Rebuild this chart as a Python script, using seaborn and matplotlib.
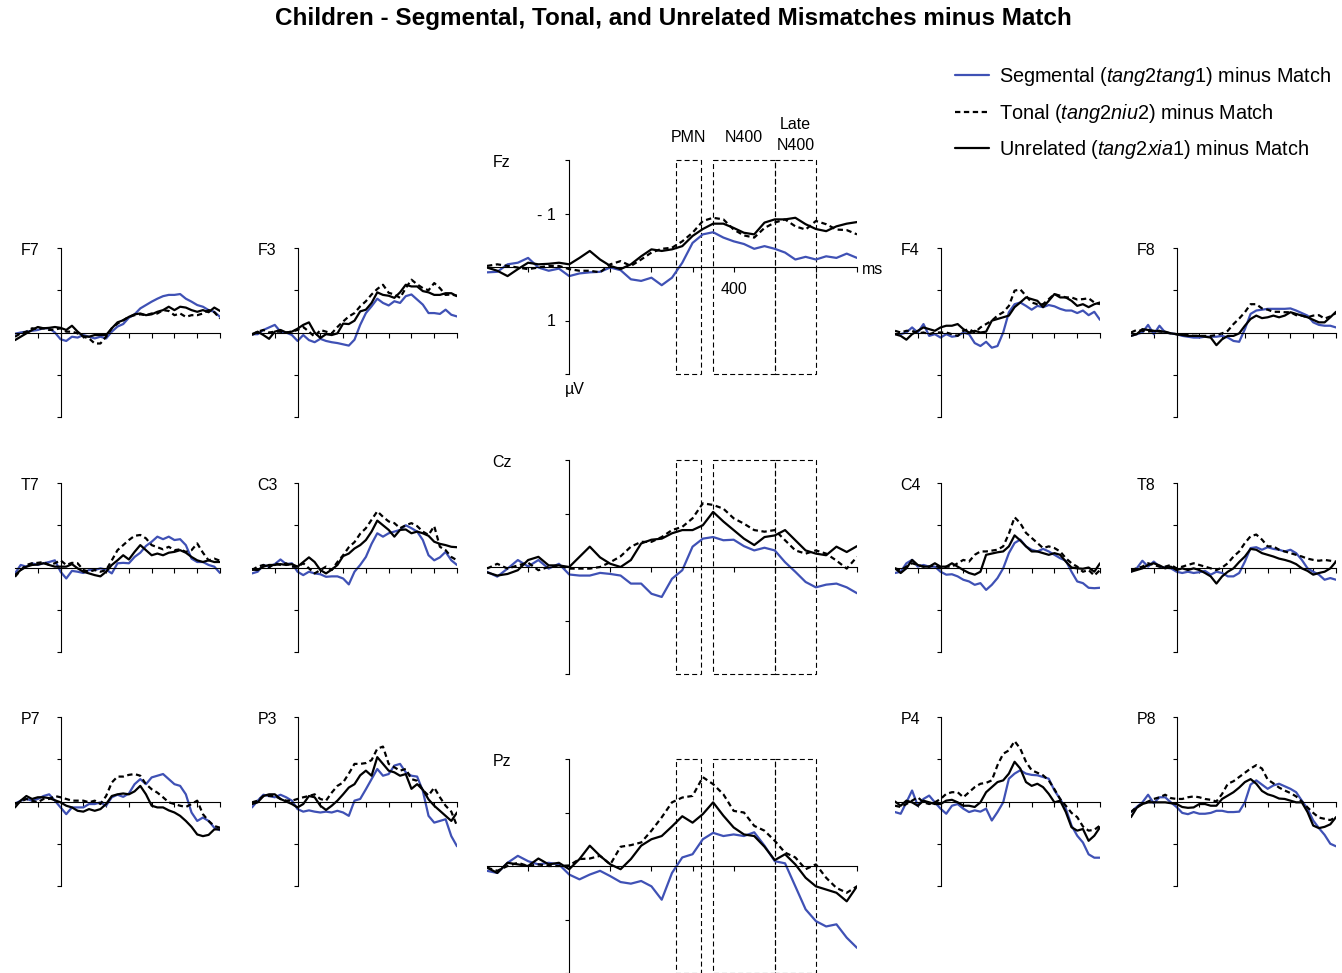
import numpy as np
import pandas as pd
import matplotlib
matplotlib.use("Agg")
import matplotlib.pyplot as plt
import seaborn as sns
from matplotlib.patches import Rectangle

# ---------------- data (µV, negative plotted up) ----------------
times = list(range(-200, 701, 25))
conditions = ["Segmental", "Tonal", "Unrelated"]
electrodes = ["F7", "F3", "Fz", "F4", "F8",
              "T7", "C3", "Cz", "C4", "T8",
              "P7", "P3", "Pz", "P4", "P8"]
windows = {"PMN": (260, 320), "N400": (350, 500), "Late N400": (500, 600)}

F7_seg = [0.03,0,-0.02,-0.04,-0.06,-0.1,-0.1,0, 0.16, 0.2,0.1,0.12,0.06,0.1,0.14,0.1,0.14, -0.02,-0.14,-0.2,-0.35, -0.43,-0.57,-0.65,-0.73, -0.8,-0.86,-0.89,-0.89, -0.91,-0.8,-0.73,-0.65, -0.61,-0.53,-0.49,-0.37]
F7_ton = [0.1,0.02,-0.02,-0.1,-0.08,-0.1,-0.06,-0.07, -0.1, -0.02,-0.02,0.02,0.1,0.14,0.26,0.26,0.1, -0.1,-0.21,-0.29,-0.37, -0.41,-0.43,-0.41,-0.45, -0.45,-0.53,-0.51,-0.41, -0.45,-0.37,-0.41,-0.41, -0.45,-0.53,-0.48,-0.33]
F7_unr = [0.18,0.1,0.02,-0.06,-0.13,-0.1,-0.11,-0.13, -0.11, -0.06,-0.16,-0.02,0.09,0.1,0.06,0.06,0.06, -0.1,-0.24,-0.29,-0.37, -0.43,-0.45,-0.41,-0.43, -0.49,-0.53,-0.61,-0.53, -0.61,-0.59,-0.53,-0.49, -0.53,-0.48,-0.59,-0.51]

F3_seg = [0.04,0.04,-0.06,-0.12,-0.18,-0.02,0,0.06, 0.2, 0.06,0.18,0.23,0.15,0.2,0.23,0.25,0.28, 0.31,0.17,-0.18,-0.46, -0.62,-0.8,-0.7,-0.64, -0.74,-0.7,-0.86,-0.9, -0.78,-0.66,-0.46,-0.46, -0.44,-0.54,-0.42,-0.38]
F3_ton = [0.06,-0.02,-0.06,0,-0.02,-0.02,0,-0.02, -0.06, -0.13,-0.02,0.1,-0.06,-0.02,0.02,-0.13,-0.26, -0.38,-0.46,-0.62,-0.74, -0.9,-1.03,-1.13,-0.94, -0.9,-0.82,-1.05,-1.25, -1.14,-1.05,-1.0,-1.17, -1.05,-0.89,-0.9,-0.87]
F3_unr = [0.04,-0.02,0.06,0.15,-0.02,-0.06,0,-0.02, -0.09, -0.18,-0.24,0,0.13,0.04,0.06,0.02,-0.21, -0.2,-0.28,-0.5,-0.54, -0.7,-0.95,-0.89,-0.87, -0.82,-0.95,-1.13,-1.09, -1.09,-0.98,-0.95,-0.89, -0.89,-0.93,-0.93,-0.86]

Fz_seg = [0.1,0.09,-0.05,-0.08,-0.17,0.01,0.07,0.03, 0.17, 0.12,0.1,0.09,0.01,0.06,0.23,0.26,0.2, 0.34,0.2,-0.08,-0.45, -0.61,-0.65,-0.55,-0.48, -0.43,-0.34,-0.39,-0.34, -0.27,-0.14,-0.19,-0.14, -0.2,-0.17,-0.25,-0.17]
Fz_ton = [-0.02,-0.05,-0.02,0.01,0.04,0.01,-0.02,-0.02, 0.04, 0.07,0.07,0.1,-0.05,-0.11,-0.02,-0.14,-0.27, -0.34,-0.36,-0.48,-0.64, -0.86,-0.92,-0.89,-0.7, -0.59,-0.55,-0.73,-0.83, -0.89,-0.76,-0.7,-0.86, -0.8,-0.7,-0.69,-0.61]
Fz_unr = [0.01,0.07,0.17,0.04,-0.08,-0.05,-0.06,-0.08, -0.05, -0.17,-0.3,-0.14,-0.02,0.04,-0.05,-0.2,-0.33, -0.3,-0.33,-0.39,-0.58, -0.71,-0.81,-0.81,-0.73, -0.64,-0.61,-0.83,-0.89, -0.89,-0.92,-0.8,-0.71, -0.67,-0.76,-0.81,-0.84]

F4_seg = [0.04,0.04,0,-0.12,0,-0.2,0.08,0.04, 0.12, 0.04,0.1,0.08,0,0.04,0.25,0.32,0.22, 0.36,0.32,0,-0.48, -0.67,-0.71,-0.63,-0.54, -0.63,-0.6,-0.65,-0.62, -0.56,-0.52,-0.52,-0.46, -0.52,-0.41,-0.49,-0.3]
F4_ton = [-0.04,0,-0.04,-0.04,0.02,0,0.04,0, 0, 0,0.04,0.08,-0.04,-0.08,0,-0.12,-0.2, -0.28,-0.4,-0.48,-0.63, -0.99,-1.02,-0.87,-0.71, -0.67,-0.67,-0.79,-0.91, -0.87,-0.83,-0.83,-0.78, -0.79,-0.81,-0.71,-0.67]
F4_unr = [0.04,0.08,0.17,0.04,-0.04,-0.12,-0.08,-0.04, -0.12, -0.16,-0.16,-0.2,-0.08,0,-0.04,0,-0.02, -0.28,-0.32,-0.36,-0.4, -0.6,-0.71,-0.83,-0.79, -0.75,-0.6,-0.75,-0.91, -0.83,-0.83,-0.75,-0.63, -0.67,-0.6,-0.67,-0.71]

F8_seg = [0.08,0.04,0,-0.18,0.04,-0.16,0,0.02, 0.04, 0.08,0.1,0.12,0.12,0.1,0.1,0.1,0.08, 0.12,0.2,0.22,-0.08, -0.44,-0.52,-0.54,-0.56, -0.56,-0.56,-0.56,-0.57, -0.52,-0.46,-0.4,-0.24, -0.18,-0.16,-0.16,-0.12]
F8_ton = [0,-0.06,-0.04,-0.02,-0.04,-0.04,0,0.02, 0.04, 0.06,0.06,0.08,0.08,0.08,0.08,0.06,0.02, -0.04,-0.2,-0.33,-0.48, -0.67,-0.67,-0.57,-0.54, -0.49,-0.49,-0.48,-0.48, -0.41,-0.4,-0.36,-0.4, -0.41,-0.33,-0.38,-0.46]
F8_unr = [0.08,0.04,-0.08,-0.06,-0.04,-0.02,-0.02,0.02, 0.04, 0.06,0.08,0.08,0.08,0.1,0.12,0.3,0.16, 0.08,0.08,0.02,-0.16, -0.32,-0.4,-0.34,-0.36, -0.4,-0.36,-0.4,-0.48, -0.44,-0.4,-0.36,-0.3, -0.24,-0.24,-0.36,-0.49]

T7_seg = [0.14,-0.06,-0.02,-0.1,-0.06,-0.1,-0.13,-0.17, 0.1, 0.26,0.08,0.1,0.13,0.06,0.06,0.02,0.05, 0.14,-0.1,-0.11,-0.1, -0.25,-0.35,-0.51,-0.61, -0.73,-0.67,-0.73,-0.65, -0.67,-0.53,-0.21,-0.13, -0.13,-0.06,-0.02,0.13]
T7_ton = [0.22,0.06,-0.06,-0.1,-0.11,-0.13,-0.06,-0.1, -0.17, -0.06,-0.11,-0.1,0.06,0.1,0.06,0.1,0.06, -0.17,-0.41,-0.53,-0.65, -0.75,-0.77,-0.69,-0.53, -0.48,-0.43,-0.49,-0.41, -0.43,-0.37,-0.41,-0.57, -0.35,-0.17,-0.21,-0.16]
T7_unr = [0.18,0.06,-0.02,-0.06,-0.07,-0.1,-0.06,-0.02, -0.02, -0.02,-0.08,0.02,0.1,0.14,0.18,0.21,0.1, -0.06,-0.17,-0.29,-0.19, -0.37,-0.53,-0.41,-0.29, -0.33,-0.29,-0.35,-0.37, -0.41,-0.35,-0.25,-0.17, -0.13,-0.17,-0.13,-0.13]

C3_seg = [0.14,0.1,-0.06,-0.02,-0.08,-0.19,-0.08,-0.1, 0.1, 0.18,0.1,0.14,0.16,0.22,0.21,0.21,0.26, 0.4,0.1,-0.06,-0.25, -0.56,-0.81,-0.73,-0.81, -0.85,-0.89,-1.0,-0.93, -0.85,-0.65,-0.29,-0.17, -0.24,-0.37,-0.17,-0.06]
C3_ton = [0.06,-0.02,-0.06,0,-0.1,-0.06,-0.1,-0.02, -0.02, -0.1,0.02,0.14,0.06,-0.02,0.06,-0.13,-0.29, -0.48,-0.6,-0.8,-0.93, -1.13,-1.33,-1.2,-1.09, -1.05,-0.93,-1.0,-1.05, -0.98,-0.85,-0.77,-0.98, -0.49,-0.41,-0.25,-0.17]
C3_unr = [0.05,0.06,-0.02,-0.06,-0.06,-0.08,-0.06,-0.08, -0.02, -0.13,-0.24,-0.13,0.06,0.14,0.05,-0.06,-0.27, -0.33,-0.45,-0.53,-0.65, -0.85,-1.11,-1.0,-0.89, -0.73,-0.89,-0.9,-0.81, -0.85,-0.81,-0.75,-0.61, -0.56,-0.53,-0.49,-0.48]

Cz_seg = [0.09,0.18,0.03,-0.13,-0.01,-0.13,0.03,-0.06, 0.14, 0.16,0.16,0.11,0.13,0.16,0.31,0.31,0.5, 0.56,0.22,0.06,-0.38, -0.53,-0.56,-0.5,-0.51, -0.39,-0.31,-0.36,-0.31, -0.09,0.09,0.28,0.38, 0.33,0.31,0.38,0.49]
Cz_ton = [0.03,-0.06,0.03,-0.03,-0.08,0.06,0,-0.03, 0.03, 0.03,0.03,0,-0.09,-0.2,-0.38,-0.47,-0.47, -0.56,-0.69,-0.75,-0.91, -1.19,-1.16,-1.09,-0.91, -0.81,-0.69,-0.66,-0.69, -0.5,-0.31,-0.25,-0.31, -0.25,-0.12,0.03,-0.19]
Cz_unr = [0.1,0.16,0.13,0.06,-0.13,-0.19,-0.03,-0.03, 0, -0.19,-0.38,-0.18,-0.06,0,-0.13,-0.44,-0.51, -0.53,-0.63,-0.69,-0.69, -0.78,-1.03,-0.85,-0.69, -0.53,-0.41,-0.56,-0.59, -0.69,-0.5,-0.31,-0.25, -0.22,-0.38,-0.28,-0.39]

C4_seg = [0.13,0.1,-0.1,-0.18,-0.02,-0.06,-0.02,-0.02, 0.1, 0.17,0.16,0.21,0.29,0.33,0.41,0.37,0.53, 0.41,0.25,0.02,-0.34, -0.58,-0.66,-0.5,-0.42, -0.38,-0.44,-0.38,-0.3, -0.22,-0.16,0.1,0.33, 0.37,0.48,0.49,0.48]
C4_ton = [0.02,0.06,-0.02,-0.1,-0.06,-0.02,-0.02,-0.06, 0.02, -0.02,-0.02,-0.1,-0.18,-0.14,-0.3,-0.38,-0.38, -0.4,-0.42,-0.5,-0.8, -1.19,-1.05,-0.82,-0.7, -0.58,-0.46,-0.5,-0.46, -0.38,-0.22,-0.1,-0.02, 0.1,0.06,0.19,0.06]
C4_unr = [0.02,0.13,0.02,-0.18,-0.06,-0.02,-0.02,-0.1, -0.02, -0.02,-0.1,-0.02,0.06,0.13,0.17,0.1,-0.3, -0.33,-0.36,-0.38,-0.5, -0.76,-0.64,-0.5,-0.38, -0.38,-0.34,-0.3,-0.34, -0.3,-0.14,0,0.02, 0.03,0,0.1,-0.1]

T8_seg = [0.1,0.02,-0.16,-0.02,-0.14,-0.02,0,0.02, 0.1, 0.13,0.1,0.13,0.11,0.08,0.17,0.1,0.13, 0.21,0.21,0.13,-0.14, -0.46,-0.48,-0.42,-0.48, -0.44,-0.42,-0.38,-0.42, -0.34,-0.18,0.02,0.1, 0.17,0.29,0.25,0.29]
T8_ton = [0.06,0.02,-0.02,-0.1,-0.06,-0.02,-0.02,-0.06, 0.02, -0.02,-0.06,-0.1,-0.06,-0.02,0.02,0.06,0, -0.1,-0.26,-0.38,-0.58, -0.74,-0.78,-0.66,-0.5, -0.5,-0.42,-0.38,-0.34, -0.3,-0.26,-0.21,-0.18, -0.16,-0.18,-0.16,-0.14]
T8_unr = [0.1,0.06,0.02,-0.06,-0.1,-0.05,0.02,-0.02, 0.06, 0.02,0.06,0.02,0.06,0.13,0.21,0.38,0.21, 0.1,0.02,-0.13,-0.26, -0.44,-0.42,-0.34,-0.3, -0.26,-0.21,-0.18,-0.14, -0.08,0.02,0.08,0.17, 0.13,0.1,0.02,-0.14]

P7_seg = [0.05,-0.02,-0.06,-0.02,-0.06,-0.13,-0.17,-0.02, 0.14, 0.3,0.14,0.14,0.14,0.06,0.06,0.02,0.1, -0.1,-0.16,-0.11,-0.19, -0.41,-0.53,-0.41,-0.57, -0.61,-0.65,-0.53,-0.41, -0.37,-0.17,0.26,0.46, 0.38,0.46,0.62,0.68]
P7_ton = [0.06,0,-0.06,-0.02,0.02,-0.06,-0.06,-0.13, -0.1, -0.06,-0.02,-0.02,-0.02,0.02,-0.02,0.06,-0.13, -0.45,-0.59,-0.59,-0.63, -0.65,-0.61,-0.41,-0.29, -0.21,-0.1,0.02,0.06, 0.1,0.13,0.06,-0.02, 0.3,0.46,0.58,0.62]
P7_unr = [0.14,-0.02,-0.13,-0.06,-0.1,-0.1,-0.08,-0.03, 0.02, 0.1,0.14,0.22,0.24,0.18,0.22,0.18,0.06, -0.13,-0.17,-0.19,-0.17, -0.24,-0.37,-0.17,0.1, 0.14,0.14,0.21,0.26, 0.34,0.46,0.6,0.78, 0.82,0.79,0.66,0.66]

P3_seg = [0.14,-0.02,-0.16,-0.13,-0.1,-0.16,-0.1,-0.02, 0.18, 0.24,0.21,0.24,0.26,0.24,0.26,0.22,0.26, 0.34,-0.02,-0.06,-0.29, -0.53,-0.77,-0.61,-0.65, -0.85,-0.89,-0.69,-0.61, -0.59,-0.25,0.34,0.5, 0.46,0.42,0.82,1.06]
P3_ton = [0.02,-0.02,-0.13,-0.13,-0.13,-0.06,-0.02,-0.02, -0.06, -0.1,-0.13,-0.17,-0.06,-0.02,-0.21,-0.37,-0.45, -0.66,-0.89,-0.89,-0.91, -0.98,-1.25,-1.3,-0.89, -0.81,-0.73,-0.77,-0.53, -0.49,-0.27,-0.14,-0.33, -0.1,0.1,0.24,0.58]
P3_unr = [0.06,0.02,-0.13,-0.17,-0.17,-0.06,0,0.06, 0.14, 0.06,-0.13,-0.1,0.1,0.2,0.1,-0.02,-0.17, -0.33,-0.41,-0.62,-0.73, -0.61,-1.05,-0.89,-0.73, -0.69,-0.61,-0.65,-0.3, -0.41,-0.28,-0.05,0.1, 0.22,0.34,0.46,0.26]

Pz_seg = [0.09,0.13,-0.06,-0.19,-0.09,-0.03,-0.06,-0.03, 0.16, 0.25,0.16,0.09,0.19,0.3,0.33,0.28,0.38, 0.63,0.13,-0.16,-0.22, -0.5,-0.62,-0.56,-0.59, -0.56,-0.63,-0.38,-0.09, -0.05,0.38,0.81,1.03, 1.13,1.09,1.34,1.53]
Pz_ton = [0.03,0.09,0,-0.06,0,-0.03,0,0, -0.01, -0.13,-0.14,-0.19,-0.03,-0.36,-0.39,-0.44,-0.66, -0.91,-1.19,-1.28,-1.31, -1.66,-1.53,-1.34,-1.03, -1.0,-0.75,-0.66,-0.47, -0.25,-0.16,0.06,-0.03, 0.22,0.41,0.5,0.38]
Pz_unr = [0.03,0.13,-0.06,-0.03,0,-0.14,-0.03,-0.06, 0.06, -0.13,-0.38,-0.19,-0.03,0.06,-0.13,-0.38,-0.5, -0.56,-0.74,-0.93,-0.81, -0.97,-1.19,-0.94,-0.72, -0.59,-0.56,-0.36,-0.11, -0.22,-0.03,0.22,0.38, 0.44,0.5,0.66,0.38]

P4_seg = [0.25,0.29,0.02,-0.26,0.1,-0.06,-0.14,0.02, 0.17, 0.29,0.1,0.06,0.17,0.25,0.21,0.24,0.17, 0.45,0.25,0.02,-0.54, -0.66,-0.74,-0.66,-0.63, -0.62,-0.58,-0.54,-0.26, -0.06,0.17,0.57,0.81, 0.97,1.25,1.33,1.33]
P4_ton = [0.1,0.13,0.06,-0.02,-0.1,0.02,0.06,0.02, -0.06, -0.18,-0.22,-0.22,-0.1,-0.22,-0.34,-0.42,-0.44, -0.5,-0.86,-1.13,-1.21, -1.43,-1.25,-0.94,-0.74, -0.68,-0.62,-0.5,-0.29, -0.06,0.1,0.27,0.37, 0.59,0.69,0.67,0.57]
P4_unr = [0,0.1,-0.02,0.02,0.1,-0.02,0.02,0.06, 0.06, -0.02,-0.04,0.02,0.1,0.1,0.13,0.02,-0.22, -0.34,-0.46,-0.5,-0.66, -0.94,-0.78,-0.46,-0.37, -0.42,-0.34,-0.18,0.02, -0.02,0.25,0.61,0.69, 0.65,0.93,0.81,0.61]

P8_seg = [0.25,0.13,0.02,-0.16,0.04,-0.1,-0.1,0.02, 0.13, 0.27,0.3,0.25,0.29,0.29,0.27,0.22,0.22, 0.25,0.25,0.24,0.02, -0.4,-0.5,-0.4,-0.3, -0.38,-0.42,-0.36,-0.3, -0.22,-0.02,0.17,0.45, 0.63,0.79,1.0,1.06]
P8_ton = [0.25,0.13,0.06,0,-0.06,-0.1,-0.16,-0.08, -0.06, -0.06,-0.1,-0.12,-0.1,-0.06,-0.04,0,-0.18, -0.42,-0.48,-0.58,-0.68, -0.78,-0.86,-0.78,-0.52, -0.43,-0.33,-0.26,-0.2, -0.12,0,0.14,0.27, 0.38,0.41,0.44,0.37]
P8_unr = [0.37,0.15,0.06,0.02,0.02,0.02,0.02,0.04, 0.06, 0.13,0.15,0.14,0.06,0.06,0.1,0.1,-0.06, -0.14,-0.22,-0.33,-0.46, -0.53,-0.42,-0.25,-0.17, -0.13,-0.07,-0.06,-0.02, 0.02,0.02,0.25,0.57, 0.63,0.6,0.54,0.37]

legend_labels = [r"Segmental ($\mathit{tang2tang1}$) minus Match",
                 r"Tonal ($\mathit{tang2niu2}$) minus Match",
                 r"Unrelated ($\mathit{tang2xia1}$) minus Match"]
title = "Children - Segmental, Tonal, and Unrelated Mismatches minus Match"

series = {}
for e in electrodes:
    series[e] = {"Segmental": globals()[e + "_seg"],
                 "Tonal": globals()[e + "_ton"],
                 "Unrelated": globals()[e + "_unr"]}

rows = []
for e in electrodes:
    for c in conditions:
        for t, v in zip(times, series[e][c]):
            rows.append((e, c, t, v))
df = pd.DataFrame(rows, columns=["electrode", "condition", "time", "uV"])

# ---------------- style ----------------
sns.set_style("white")
plt.rcParams["font.family"] = ["Liberation Sans", "DejaVu Sans"]
plt.rcParams["mathtext.fontset"] = "custom"
plt.rcParams["mathtext.it"] = "Liberation Sans:italic"
plt.rcParams["mathtext.rm"] = "Liberation Sans"
plt.rcParams["text.color"] = "black"
plt.rcParams["xtick.color"] = "black"
plt.rcParams["ytick.color"] = "black"
plt.rcParams["axes.labelcolor"] = "black"

BLUE = "#3F51B5"
palette = {"Segmental": BLUE, "Tonal": "black", "Unrelated": "black"}
dashes = {"Segmental": "", "Tonal": (2.4, 1.6), "Unrelated": ""}

W, H = 1342, 973
fig = plt.figure(figsize=(W / 100, H / 100), dpi=100)

# layout in pixels: (x0, top, width, height)
small_w, small_h = 205, 169
big_w, big_h = 370, 214
col_x = [15, 252, None, 895, 1131]
row_top = [248, 483, 717]
big_top = [160, 460, 759]

def rect(x0, top, w, h):
    return [x0 / W, 1 - (top + h) / H, w / W, h / H]

axes = {}
for r in range(3):
    for c in range(5):
        e = electrodes[r * 5 + c]
        if c == 2:
            ax = fig.add_axes(rect(487, big_top[r], big_w, big_h))
        else:
            ax = fig.add_axes(rect(col_x[c], row_top[r], small_w, small_h))
        axes[e] = ax

for e, ax in axes.items():
    ax.patch.set_alpha(0)
    sub = df[df.electrode == e]
    sns.lineplot(data=sub, x="time", y="uV", hue="condition", style="condition",
                 hue_order=conditions, style_order=conditions,
                 palette=palette, dashes=dashes, linewidth=1.6,
                 estimator=None, sort=False, legend=False, ax=ax)
    ax.set_xlim(-200, 700)
    ax.set_ylim(2, -2)
    for s in ["top", "right"]:
        ax.spines[s].set_visible(False)
    ax.spines["left"].set_position(("data", 0))
    ax.spines["bottom"].set_position(("data", 0))
    for s in ["left", "bottom"]:
        ax.spines[s].set_linewidth(0.8)
        ax.spines[s].set_color("black")
    ax.set_xticks(list(range(-100, 701, 100)))
    ax.set_yticks([-2, -1, 1, 2])
    ax.tick_params(axis="x", bottom=True, direction="out", length=3.6, width=0.8,
                   labelbottom=False, colors="black")
    ax.tick_params(axis="y", left=True, direction="out", length=2.6, width=0.8,
                   labelleft=False, colors="black")
    ax.set_xlabel("")
    ax.set_ylabel("")
    ax.grid(False)
    # electrode label
    ax.annotate(e, xy=(0, 1), xycoords="axes fraction", xytext=(4, -1.5),
                textcoords="offset points", ha="left", va="center", fontsize=11.5)

# ERP windows on the midline panels
for e in ["Fz", "Cz", "Pz"]:
    ax = axes[e]
    for name, (t0, t1) in windows.items():
        ax.add_patch(Rectangle((t0, -2), t1 - t0, 4, fill=False, ec="black",
                               lw=0.8, ls=(0, (4.5, 2.8)), clip_on=False, zorder=1))

# Fz annotations
ax = axes["Fz"]
ax.set_yticks([-2, -1, 1, 2], ["", "- 1", "1", ""])
ax.tick_params(axis="y", labelleft=True, labelsize=11.5, pad=7)
ax.set_xticks(list(range(-100, 701, 100)),
              ["400" if t == 400 else "" for t in range(-100, 701, 100)])
ax.tick_params(axis="x", labelbottom=True, labelsize=11.5, pad=7)
ax.annotate("ms", xy=(700, 0), xytext=(3.5, -1.5), textcoords="offset points",
            ha="left", va="center", fontsize=11.5)
ax.annotate("µV", xy=(0, 2), xytext=(4.3, -11.5), textcoords="offset points",
            ha="center", va="center", fontsize=11.5, annotation_clip=False)
ax.annotate("PMN", xy=(290, -2), xytext=(0, 16), textcoords="offset points",
            ha="center", va="center", fontsize=11.5, annotation_clip=False)
ax.annotate("N400", xy=(425, -2), xytext=(0, 16), textcoords="offset points",
            ha="center", va="center", fontsize=11.5, annotation_clip=False)
ax.annotate("Late", xy=(550, -2), xytext=(0, 25.5), textcoords="offset points",
            ha="center", va="center", fontsize=11.5, annotation_clip=False)
ax.annotate("N400", xy=(550, -2), xytext=(0, 10.5), textcoords="offset points",
            ha="center", va="center", fontsize=11.5, annotation_clip=False)

# legend
handles = axes["Fz"].get_lines()[:3]
fig.legend(handles, legend_labels, loc="upper left",
           bbox_to_anchor=(955 / W, 1 - 65 / H), frameon=False, fontsize=14.3,
           handlelength=1.7, handletextpad=0.5, labelspacing=0.68,
           borderpad=0, borderaxespad=0)

fig.text(673 / W, 1 - 19 / H, title, ha="center", va="center",
         fontsize=17.5, fontweight="bold", color="black")

fig.savefig("out.png", dpi=100)
